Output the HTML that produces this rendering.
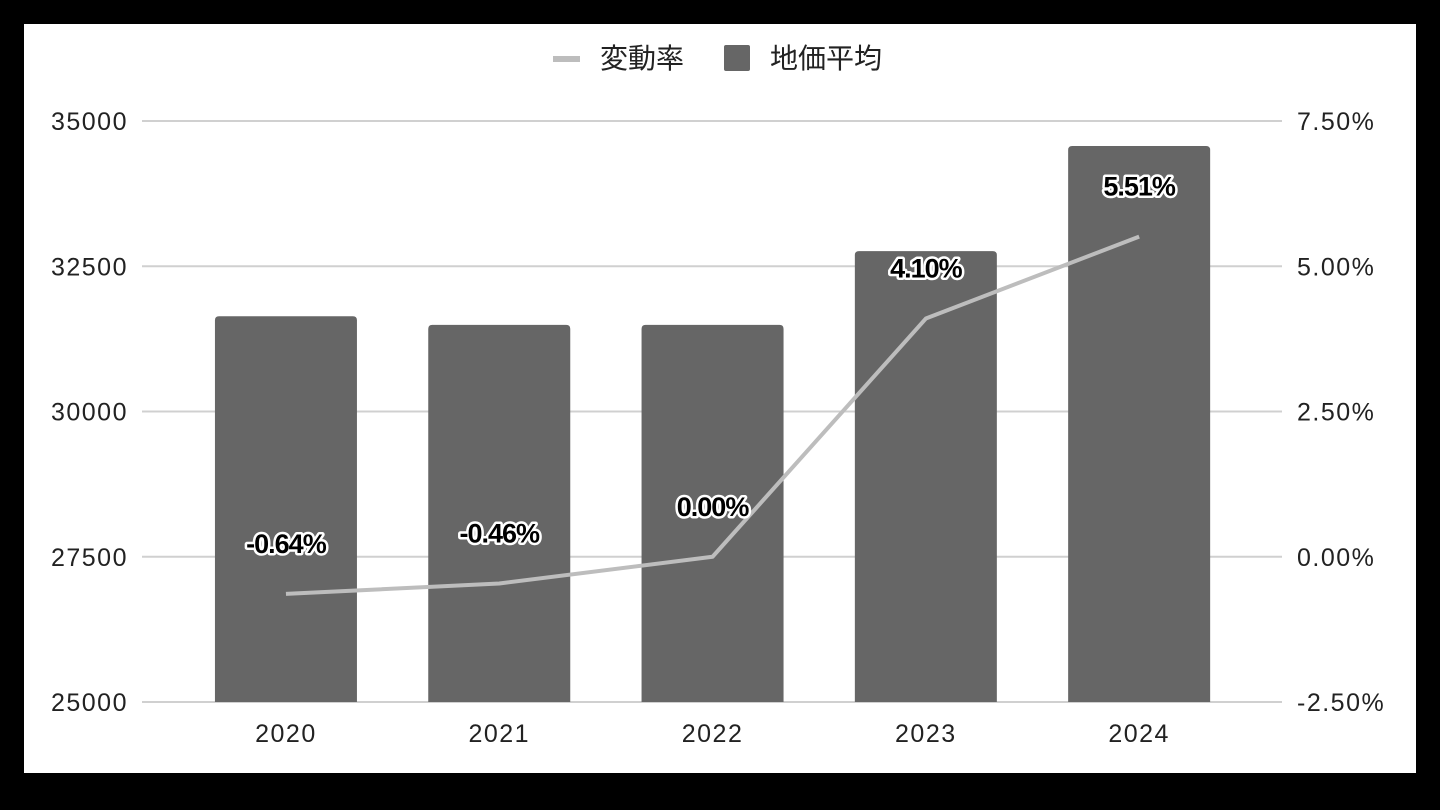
<!DOCTYPE html>
<html><head><meta charset="utf-8"><style>
body{margin:0;background:#000;width:1440px;height:810px;overflow:hidden}
svg{display:block}
text{font-family:"Liberation Sans","Noto Sans CJK JP",sans-serif}
</style></head><body>
<svg id="c" width="1440" height="810">
<rect x="24" y="24" width="1392" height="749" fill="#fff"/>
<g>
<rect x="553" y="56" width="27" height="6" fill="#bdbdbd"/>
<text x="600" y="68" font-size="28" fill="#222">変動率</text>
<rect x="724" y="45" width="26" height="26" rx="2" fill="#666"/>
<text x="770" y="68" font-size="28" fill="#222">地価平均</text>
</g>
</svg>
<script>
const categories=["2020","2021","2022","2023","2024"];
const priceValues=[31640,31490,31490,32760,34570];
const rateValues=[-0.64,-0.46,0.00,4.10,5.51];
const leftTicks=[25000,27500,30000,32500,35000];
const rightTicks=[-2.5,0,2.5,5,7.5];
const svg=document.getElementById('c');
const NS='http://www.w3.org/2000/svg';
const top_=121,bot=702,x0=179.3,step=213.3,bw=142;
const yL=v=>bot-(v-25000)/10000*(bot-top_);
const yR=v=>bot-(v+2.5)/10*(bot-top_);
const xC=i=>x0+step*(i+0.5);
function mk(t,a){const e=document.createElementNS(NS,t);for(const k in a)e.setAttribute(k,a[k]);svg.appendChild(e);return e;}
leftTicks.forEach((t,i)=>{
 const g=mk('line',{x1:142,x2:1282,y1:yL(t),y2:yL(t),stroke:'#d0d0d0','stroke-width':2});
 
 
 const l=mk('text',{x:128,y:yL(t)+9,'font-size':25,'letter-spacing':1.5,fill:'#222','text-anchor':'end'});l.textContent=t;
 
 
});
rightTicks.forEach(t=>{
 const l=mk('text',{x:1297,y:yR(t)+9,'font-size':25,'letter-spacing':1.5,fill:'#222'});l.textContent=t.toFixed(2)+'%';
 
 
});
priceValues.forEach((v,i)=>{
 const y=yL(v);
 const r=mk('path',{d:`M${xC(i)-bw/2},${bot} V${y+4} Q${xC(i)-bw/2},${y} ${xC(i)-bw/2+4},${y} H${xC(i)+bw/2-4} Q${xC(i)+bw/2},${y} ${xC(i)+bw/2},${y+4} V${bot} Z`,fill:'#666'});
 
 
 const l=mk('text',{x:xC(i),y:742,'font-size':25,'letter-spacing':1.5,fill:'#222','text-anchor':'middle'});l.textContent=categories[i];
 
 
});
const pts=rateValues.map((v,i)=>xC(i)+','+yR(v)).join(' ');
const pl=mk('polyline',{points:pts,fill:'none',stroke:'#bdbdbd','stroke-width':4,'stroke-linejoin':'round'});


rateValues.forEach((v,i)=>{
 const l=mk('text',{x:xC(i),y:yR(v)-41,'font-size':27,'font-weight':'bold',fill:'#000',stroke:'#fff','stroke-width':5,'paint-order':'stroke','stroke-linejoin':'round','text-anchor':'middle','letter-spacing':'-1'});
 l.textContent=v.toFixed(2)+'%';
 
 
});
</script>
</body></html>
